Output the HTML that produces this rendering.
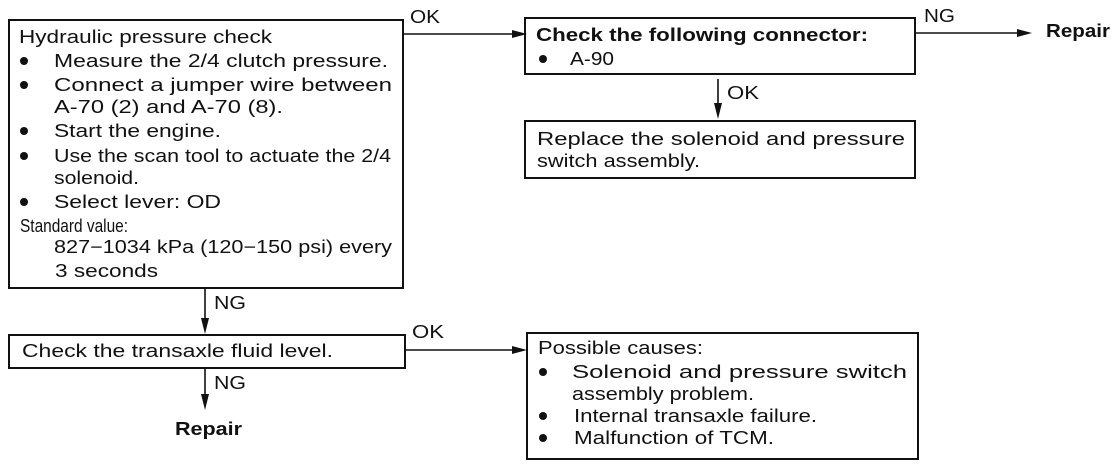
<!DOCTYPE html>
<html><head><meta charset="utf-8"><style>
body{margin:0;background:#fff;}
svg text{font-family:"Liberation Sans",sans-serif;font-size:18px;fill:#111;}
</style></head><body>
<svg width="1120" height="470" style="position:absolute;left:0;top:0" xmlns="http://www.w3.org/2000/svg">
<g fill="none" stroke="#111" stroke-width="2">
<rect x="9" y="20" width="394" height="268"/>
<rect x="9" y="335" width="396" height="33"/>
<rect x="525" y="18" width="390" height="56"/>
<rect x="525" y="121" width="390" height="57"/>
<rect x="527" y="333" width="391" height="126"/>
</g>
<g stroke="#111" stroke-width="1.6" fill="#111">
<line x1="404" y1="34" x2="515" y2="34"/><polygon points="527,34 512,30 512,38" stroke="none"/>
<line x1="405" y1="350" x2="515" y2="350"/><polygon points="527,350 512,346 512,354" stroke="none"/>
<line x1="916" y1="33" x2="1020" y2="33"/><polygon points="1032,33 1017,29 1017,37" stroke="none"/>
<line x1="205" y1="289" x2="205" y2="322"/><polygon points="205,334 201,318 209,318" stroke="none"/>
<line x1="205" y1="369" x2="205" y2="398"/><polygon points="205,410 201,394 209,394" stroke="none"/>
<line x1="718" y1="79" x2="718" y2="106"/><polygon points="718,119 714,103 722,103" stroke="none"/>
</g>
<g fill="#111">
<circle cx="24" cy="61" r="4"/><circle cx="24" cy="85" r="4"/><circle cx="24" cy="131" r="4"/>
<circle cx="24" cy="156" r="4"/><circle cx="24" cy="202" r="4"/>
<circle cx="543" cy="59" r="4"/>
<circle cx="543" cy="372" r="4"/><circle cx="543" cy="416" r="4"/><circle cx="543" cy="438" r="4"/>
</g>
<g>
<text x="19" y="43" textLength="253" lengthAdjust="spacingAndGlyphs">Hydraulic pressure check</text>
<text x="54" y="67" textLength="334" lengthAdjust="spacingAndGlyphs">Measure the 2/4 clutch pressure.</text>
<text x="54" y="91" textLength="338" lengthAdjust="spacingAndGlyphs">Connect a jumper wire between</text>
<text x="54" y="113" textLength="229" lengthAdjust="spacingAndGlyphs">A-70 (2) and A-70 (8).</text>
<text x="54" y="137" textLength="167" lengthAdjust="spacingAndGlyphs">Start the engine.</text>
<text x="54" y="162" textLength="337" lengthAdjust="spacingAndGlyphs">Use the scan tool to actuate the 2/4</text>
<text x="54" y="184" textLength="85" lengthAdjust="spacingAndGlyphs">solenoid.</text>
<text x="54" y="208" textLength="167" lengthAdjust="spacingAndGlyphs">Select lever: OD</text>
<text x="20" y="232" textLength="108" lengthAdjust="spacingAndGlyphs">Standard value:</text>
<text x="54" y="253" textLength="338" lengthAdjust="spacingAndGlyphs">827−1034 kPa (120−150 psi) every</text>
<text x="55" y="277" textLength="103" lengthAdjust="spacingAndGlyphs">3 seconds</text>
<text x="22" y="357" textLength="311" lengthAdjust="spacingAndGlyphs">Check the transaxle fluid level.</text>
<text x="410" y="23" textLength="30" lengthAdjust="spacingAndGlyphs">OK</text>
<text x="412" y="338" textLength="32" lengthAdjust="spacingAndGlyphs">OK</text>
<text x="214" y="309" textLength="32" lengthAdjust="spacingAndGlyphs">NG</text>
<text x="214" y="389" textLength="32" lengthAdjust="spacingAndGlyphs">NG</text>
<text x="175" y="435" textLength="67" lengthAdjust="spacingAndGlyphs" font-weight="bold">Repair</text>
<text x="536" y="41" textLength="332" lengthAdjust="spacingAndGlyphs" font-weight="bold">Check the following connector:</text>
<text x="570" y="65" textLength="44" lengthAdjust="spacingAndGlyphs">A-90</text>
<text x="924" y="22" textLength="31" lengthAdjust="spacingAndGlyphs">NG</text>
<text x="1046" y="37" textLength="64" lengthAdjust="spacingAndGlyphs" font-weight="bold">Repair</text>
<text x="727" y="99" textLength="32" lengthAdjust="spacingAndGlyphs">OK</text>
<text x="537" y="145" textLength="368" lengthAdjust="spacingAndGlyphs">Replace the solenoid and pressure</text>
<text x="537" y="167" textLength="163" lengthAdjust="spacingAndGlyphs">switch assembly.</text>
<text x="538" y="354" textLength="165" lengthAdjust="spacingAndGlyphs">Possible causes:</text>
<text x="572" y="378" textLength="335" lengthAdjust="spacingAndGlyphs">Solenoid and pressure switch</text>
<text x="572" y="400" textLength="182" lengthAdjust="spacingAndGlyphs">assembly problem.</text>
<text x="574" y="422" textLength="243" lengthAdjust="spacingAndGlyphs">Internal transaxle failure.</text>
<text x="574" y="444" textLength="200" lengthAdjust="spacingAndGlyphs">Malfunction of TCM.</text>
</g>
</svg>
</body></html>
